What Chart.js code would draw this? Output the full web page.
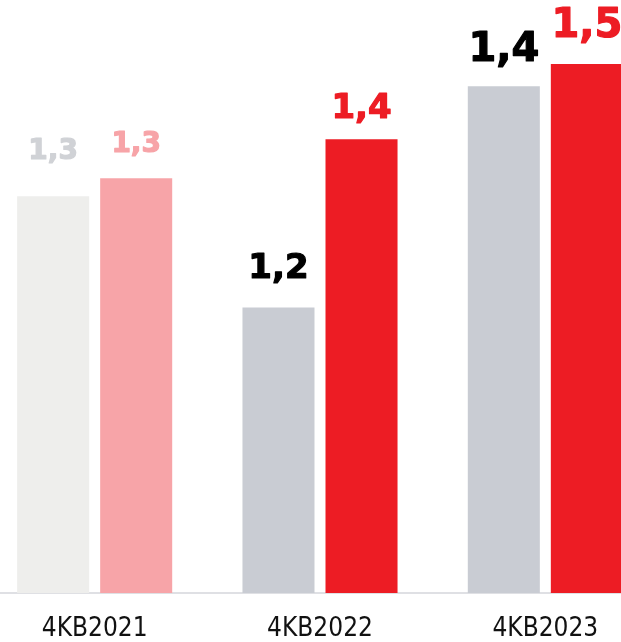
<!DOCTYPE html>
<html>
<head>
<meta charset="utf-8">
<script src="https://cdn.jsdelivr.net/npm/chart.js@4.4.0/dist/chart.umd.min.js"></script>
<style>
    html, body { margin: 0; padding: 0; background: #fff; overflow: hidden; width: 621px; height: 642px; }
    #wrap { position: absolute; left: -18px; top: 0; width: 676px; height: 666px; }
</style>
</head>
<body>
<div id="wrap"><canvas id="g_kb"></canvas></div>
<script>
// categories and values
const categories = ["4KB2021", "4KB2022", "4KB2023"];
const greyValues = [1.326, 1.215, 1.436];
const redValues = [1.344, 1.383, 1.458];

// styles
const greyColors = ['#eeeeec', '#c9ccd3', '#c9ccd3'];
const redColors = ['#f7a4a8', '#ed1c24', '#ed1c24'];
const greyLabelColors = ['#d0d2d6', '#000000', '#000000'];
const redLabelColors = ['#f7a4a8', '#ed1c24', '#ed1c24'];
const labelSizes = [28, 34, 40];
const greyLift = [37, 30, 25];
const redLift = [26, 21, 27];

const valueLabels = {
    id: 'valueLabels',
    afterDatasetsDraw(chart) {
        const ctx = chart.ctx;
        chart.data.datasets.forEach(function(ds, i) {
            const meta = chart.getDatasetMeta(i);
            meta.data.forEach(function(bar, j) {
                const txt = ds.data[j].toFixed(1).replace('.', ',');
                ctx.save();
                ctx.font = 'bold ' + labelSizes[j] + 'px "DejaVu Sans"';
                ctx.fillStyle = ds.labelColors[j];
                ctx.strokeStyle = ds.labelColors[j];
                ctx.lineWidth = 1.2;
                ctx.lineJoin = 'round';
                ctx.textAlign = 'center';
                ctx.textBaseline = 'alphabetic';
                ctx.fillText(txt, bar.x, bar.y - ds.lift[j]);
                ctx.strokeText(txt, bar.x, bar.y - ds.lift[j]);
                ctx.restore();
            });
        });
    }
};

window.addEventListener('load', () => {
    const ctx = document.getElementById("g_kb").getContext("2d");
    let conData = {
        labels: categories,
        datasets: [{
            label: "grey",
            data: greyValues,
            backgroundColor: greyColors,
            labelColors: greyLabelColors,
            lift: greyLift,
            borderWidth: 0
        }, {
            label: "red",
            data: redValues,
            backgroundColor: redColors,
            labelColors: redLabelColors,
            lift: redLift,
            borderWidth: 0
        }]
    };
    let options = {
        responsive: true,
        maintainAspectRatio: false,
        animation: false,
        categoryPercentage: 0.737,
        barPercentage: 0.8675,
        layout: { padding: { top: 0, left: 0, right: 0, bottom: 1 } },
        plugins: {
            legend: { display: false },
            tooltip: { enabled: false }
        },
        scales: {
            y: {
                display: false,
                min: 0.93,
                max: 1.522
            },
            x: {
                grid: { display: false, drawTicks: false },
                border: { display: true, color: '#dfe0e4', width: 2 },
                ticks: {
                    color: '#111111',
                    padding: 23,
                    font: { family: '"DejaVu Sans Condensed"', size: 26, lineHeight: 1 }
                }
            }
        }
    };
    new Chart(ctx, { type: 'bar', data: conData, options: options, plugins: [valueLabels] });
});
</script>
</body>
</html>
